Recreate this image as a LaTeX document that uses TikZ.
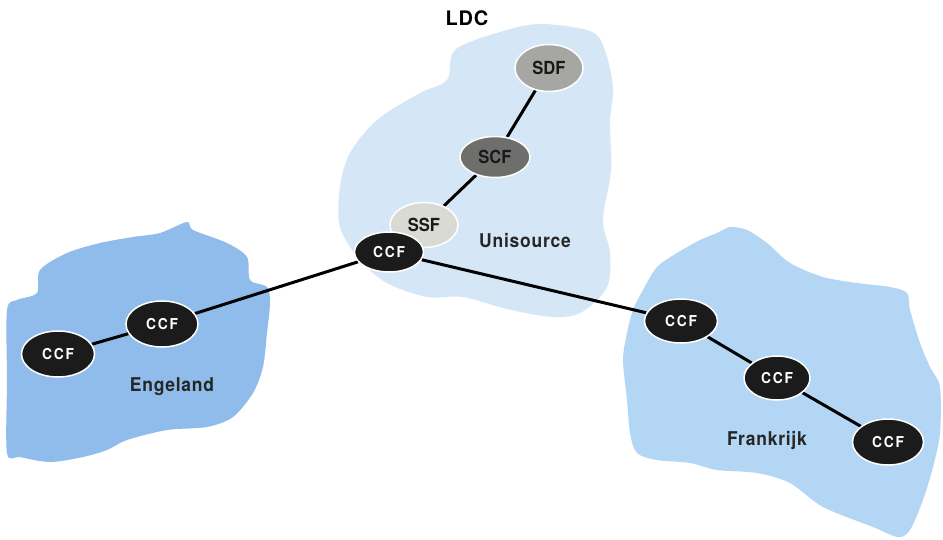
\documentclass[tikz,border=0pt]{standalone}
\usepackage{fontspec}
\setmainfont{TeX Gyre Heros}
\usetikzlibrary{shapes.geometric,backgrounds}
\definecolor{uniblue}{HTML}{D5E7F7}
\definecolor{engblue}{HTML}{8FBCEA}
\definecolor{frablue}{HTML}{B4D6F5}
\definecolor{sdfgray}{HTML}{A6A6A3}
\definecolor{scfgray}{HTML}{6E6E6C}
\definecolor{ssfgray}{HTML}{DADAD4}
\definecolor{ccfblack}{HTML}{1B1B1B}
\tikzset{
  fn/.style={ellipse, draw=white, line width=1.5pt, inner sep=0pt,
    minimum width=70pt, minimum height=44pt,
    font=\fontsize{18}{18}\selectfont\bfseries\addfontfeature{FakeStretch=0.92}, text=black!90},
  ccf/.style={fn, fill=ccfblack, text=white,
    font=\fontsize{15}{15}\selectfont\bfseries\addfontfeature{FakeStretch=0.92,LetterSpace=12}},
  link/.style={line width=3pt, black},
  region/.style={font=\fontsize{19}{19}\selectfont\bfseries\addfontfeature{FakeStretch=0.92,LetterSpace=4}, text=black!85}
}
\begin{document}
\begin{tikzpicture}[x=1pt,y=-1pt]
\useasboundingbox (0,0) rectangle (943,539);

% regions
\begin{scope}[on background layer]
  \fill[white] (0,0) rectangle (943,539);
  \fill[uniblue] plot[smooth cycle, tension=0.55] coordinates {
    (455,50) (500,32) (540,24) (590,31) (604,48) (613,87) (610,122)
    (611,170) (603,220) (610,253) (607,287) (582,312) (553,317)
    (507,309) (463,297) (427,297) (387,283) (360,260) (340,227)
    (340,187) (350,153) (377,120) (420,93) (447,80)};
  \fill[engblue] plot[smooth cycle, tension=0.5] coordinates {
    (7,310) (17,300) (37,293) (40,270) (67,253) (100,243) (133,237)
    (160,233) (187,222) (193,230) (227,243) (247,257) (250,280)
    (267,287) (270,303) (267,333) (263,367) (253,393) (233,417)
    (207,427) (167,430) (127,440) (107,450) (83,457) (50,462)
    (20,457) (7,453) (7,380)};
  \fill[frablue] plot[smooth cycle, tension=0.5] coordinates {
    (657,267) (677,253) (700,240) (717,233) (730,227) (747,230)
    (767,243) (790,263) (823,277) (857,283) (890,287) (907,293)
    (910,310) (920,343) (930,367) (940,387) (940,433) (933,467)
    (923,500) (910,530) (898,537) (873,527) (823,507) (790,483)
    (757,473) (717,470) (690,463) (657,460) (637,453) (630,433)
    (627,400) (623,360) (627,333) (633,310) (643,290)};
\end{scope}

% LDC functions
\node[fn, fill=sdfgray, minimum width=68pt, minimum height=47pt] (sdf) at (549,68) {SDF};
\node[fn, fill=scfgray, minimum width=70pt, minimum height=41pt] (scf) at (495,157) {SCF};
\node[fn, fill=ssfgray, minimum width=68pt, minimum height=45pt] (ssf) at (424,225) {SSF};
\node[ccf, minimum width=69pt, minimum height=40pt] (ccf0) at (389,252) {CCF};

% Engeland
\node[ccf, minimum width=72pt, minimum height=46pt] (e2) at (162,324) {CCF};
\node[ccf, minimum width=73pt, minimum height=46pt] (e1) at (58,354) {CCF};

% Frankrijk
\node[ccf, minimum width=73pt, minimum height=44pt] (f1) at (681,321) {CCF};
\node[ccf, minimum width=66pt, minimum height=44pt] (f2) at (777,378) {CCF};
\node[ccf, minimum width=71pt, minimum height=46pt] (f3) at (888,442) {CCF};

% labels
\node[font=\fontsize{20}{20}\selectfont\bfseries\addfontfeature{LetterSpace=4}] (ldc) at (467,18) {LDC};
\node[region] (uni) at (525,241) {Unisource};
\node[region] (eng) at (172,387) {Engeland};
\node[region] (fra) at (767,440) {Frankrijk};

% connections
\begin{scope}[on background layer]
  \draw[link] (sdf) -- (scf);
  \draw[link] (scf) -- (ssf);
  \draw[link] (ccf0) -- (e2);
  \draw[link] (e2) -- (e1);
  \draw[link] (ccf0) -- (f1);
  \draw[link] (f1) -- (f2);
  \draw[link] (f2) -- (f3);
\end{scope}
\end{tikzpicture}
\end{document}
